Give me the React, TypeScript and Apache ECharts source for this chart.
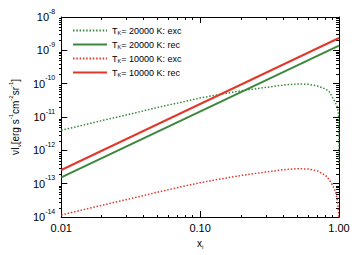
import React, { useEffect, useRef } from "react";
import * as echarts from "echarts";

// x values shared by the excitation curves
const xExc = [0.01, 0.02, 0.03, 0.05, 0.07, 0.1, 0.14, 0.2, 0.3, 0.4, 0.5, 0.6, 0.7, 0.8, 0.85, 0.9, 0.94, 0.97, 0.99, 0.998, 0.9995];
const exc20000 = [3.98e-12, 7.94e-12, 1.17e-11, 1.95e-11, 2.66e-11, 3.72e-11, 4.79e-11, 6.17e-11, 7.76e-11, 9.12e-11, 9.77e-11, 9.55e-11, 8.51e-11, 6.92e-11, 5.75e-11, 3.8e-11, 2.75e-11, 2.0e-11, 1.41e-11, 5.0e-12, 4.0e-13];
const exc10000 = [1.15e-14, 2.29e-14, 3.39e-14, 5.62e-14, 7.76e-14, 1.07e-13, 1.38e-13, 1.78e-13, 2.24e-13, 2.63e-13, 2.82e-13, 2.75e-13, 2.4e-13, 1.78e-13, 1.32e-13, 8.91e-14, 6.03e-14, 3.55e-14, 1.78e-14, 5.0e-15, 1.0e-15];
// recombination lines (straight in log-log)
const xRec = [0.01, 1];
const rec20000 = [1.55e-13, 1.38e-9];
const rec10000 = [2.57e-13, 2.34e-9];

const seriesNames = ["TK= 20000 K: exc", "TK= 20000 K: rec", "TK= 10000 K: exc", "TK= 10000 K: rec"];

const xMajor = [0.01, 0.1, 1];
const xLabels = ["0.01", "0.10", "1.00"];
const yExponents = [-14, -13, -12, -11, -10, -9, -8];
const yMajor = [1e-14, 1e-13, 1e-12, 1e-11, 1e-10, 1e-9, 1e-8];

const GREEN = "#3b873b";
const RED = "#e0392b";
const FONT = "Liberation Sans";

function minorTicks(decades: number[]) {
  const out: number[] = [];
  for (let i = 0; i < decades.length - 1; i++) {
    for (let m = 2; m <= 9; m++) out.push(m * decades[i]);
  }
  return out;
}

export default function App() {
  const ref = useRef<HTMLDivElement>(null);
  useEffect(() => {
    if (!ref.current) return;
    const chart = echarts.init(ref.current, null, { renderer: "svg" });
    const xMinor = minorTicks(xMajor);
    const yMinor = minorTicks(yMajor);
    const grid = { left: 59, right: 18, top: 17, bottom: 37 };
    const base = { type: "log" as const, logBase: 10, splitLine: { show: false }, minorTick: { show: false }, minorSplitLine: { show: false } };
    const xBase = { ...base, min: 0.01, max: 1 };
    const yBase = { ...base, min: 1e-14, max: 1e-8 };
    const line = { show: true, lineStyle: { color: "#000", width: 1 } };
    const noLine = { show: false };
    const majorTick = (vals: number[]) => ({ show: true, inside: true, length: 6, customValues: vals, lineStyle: { color: "#000", width: 1 } });
    const minorTick = (vals: number[]) => ({ show: true, inside: true, length: 3, customValues: vals, lineStyle: { color: "#000", width: 1 } });

    const option: any = {
      animation: false,
      backgroundColor: "#fff",
      textStyle: { fontFamily: FONT },
      grid: [grid, grid],
      xAxis: [
        {
          ...xBase, gridIndex: 0, position: "bottom", axisLine: line, axisTick: majorTick(xMajor),
          axisLabel: {
            show: true, customValues: xMajor, color: "#000", fontSize: 11, fontFamily: FONT, margin: 5,
            formatter: (v: number) => xLabels[xMajor.findIndex((m) => Math.abs(m - v) / m < 1e-6)] ?? "",
          },
          name: "{t|x}{s|i}", nameLocation: "middle", nameGap: 19,
          nameTextStyle: { rich: { t: { fontSize: 10, color: "#000", fontFamily: FONT }, s: { fontSize: 6, color: "#000", fontFamily: FONT, verticalAlign: "bottom", lineHeight: 14 } } },
        },
        { ...xBase, gridIndex: 0, position: "top", axisLine: line, axisTick: majorTick(xMajor), axisLabel: { show: false } },
        { ...xBase, gridIndex: 1, position: "bottom", axisLine: noLine, axisTick: minorTick(xMinor), axisLabel: { show: false } },
        { ...xBase, gridIndex: 1, position: "top", axisLine: noLine, axisTick: minorTick(xMinor), axisLabel: { show: false } },
      ],
      yAxis: [
        {
          ...yBase, gridIndex: 0, position: "left", axisLine: line, axisTick: majorTick(yMajor),
          axisLabel: {
            show: true, customValues: yMajor, margin: 6, padding: [0, 0, 4, 0],
            formatter: (v: number) => {
              const i = yMajor.findIndex((m) => Math.abs(m - v) / m < 1e-6);
              return i < 0 ? "" : `{b|10}{e|${yExponents[i]}}`;
            },
            rich: {
              b: { fontSize: 11, color: "#000", fontFamily: FONT, lineHeight: 15, verticalAlign: "bottom" },
              e: { fontSize: 7, color: "#000", fontFamily: FONT, verticalAlign: "top", lineHeight: 8 },
            },
          },
          name: "{t|νI}{s|ν}{t|[erg s}{e|-1}{t|cm}{e|-2}{t|sr}{e|-1}{t|]}",
          nameLocation: "middle", nameGap: 28, nameRotate: 90,
          nameTextStyle: {
            rich: {
              t: { fontSize: 10, color: "#000", fontFamily: FONT, lineHeight: 14, verticalAlign: "middle" },
              s: { fontSize: 6, color: "#000", fontFamily: FONT, verticalAlign: "bottom", lineHeight: 8 },
              e: { fontSize: 6, color: "#000", fontFamily: FONT, verticalAlign: "top", lineHeight: 8 },
            },
          },
        },
        { ...yBase, gridIndex: 0, position: "right", axisLine: line, axisTick: majorTick(yMajor), axisLabel: { show: false } },
        { ...yBase, gridIndex: 1, position: "left", axisLine: noLine, axisTick: minorTick(yMinor), axisLabel: { show: false } },
        { ...yBase, gridIndex: 1, position: "right", axisLine: noLine, axisTick: minorTick(yMinor), axisLabel: { show: false } },
      ],
      legend: {
        orient: "vertical", left: 67, top: 21, itemWidth: 34, itemHeight: 9, itemGap: 4,
        data: seriesNames,
        itemStyle: { opacity: 0 },
        formatter: (name: string) => `{t|T}{s|K}{t|${name.slice(2)}}`,
        textStyle: {
          rich: {
            t: { fontSize: 9, color: "#000", fontFamily: FONT, lineHeight: 11, verticalAlign: "middle" },
            s: { fontSize: 5.5, color: "#000", fontFamily: FONT, verticalAlign: "bottom", lineHeight: 7 },
          },
        },
      },
      series: [
        { name: seriesNames[0], type: "line", xAxisIndex: 0, yAxisIndex: 0, symbol: "none", clip: true, data: xExc.map((x, i) => [x, exc20000[i]]), lineStyle: { color: GREEN, width: 1.5, type: [1.5, 1.8] }, itemStyle: { color: GREEN } },
        { name: seriesNames[1], type: "line", xAxisIndex: 0, yAxisIndex: 0, symbol: "none", clip: true, data: xRec.map((x, i) => [x, rec20000[i]]), lineStyle: { color: GREEN, width: 2 }, itemStyle: { color: GREEN } },
        { name: seriesNames[2], type: "line", xAxisIndex: 0, yAxisIndex: 0, symbol: "none", clip: true, data: xExc.map((x, i) => [x, exc10000[i]]), lineStyle: { color: RED, width: 1.5, type: [1.5, 1.8] }, itemStyle: { color: RED } },
        { name: seriesNames[3], type: "line", xAxisIndex: 0, yAxisIndex: 0, symbol: "none", clip: true, data: xRec.map((x, i) => [x, rec10000[i]]), lineStyle: { color: RED, width: 2 }, itemStyle: { color: RED } },
      ],
    };
    chart.setOption(option);
    return () => chart.dispose();
  }, []);
  return <div ref={ref} style={{ position: "fixed", left: 0, top: 0, width: 357, height: 255 }} />;
}
